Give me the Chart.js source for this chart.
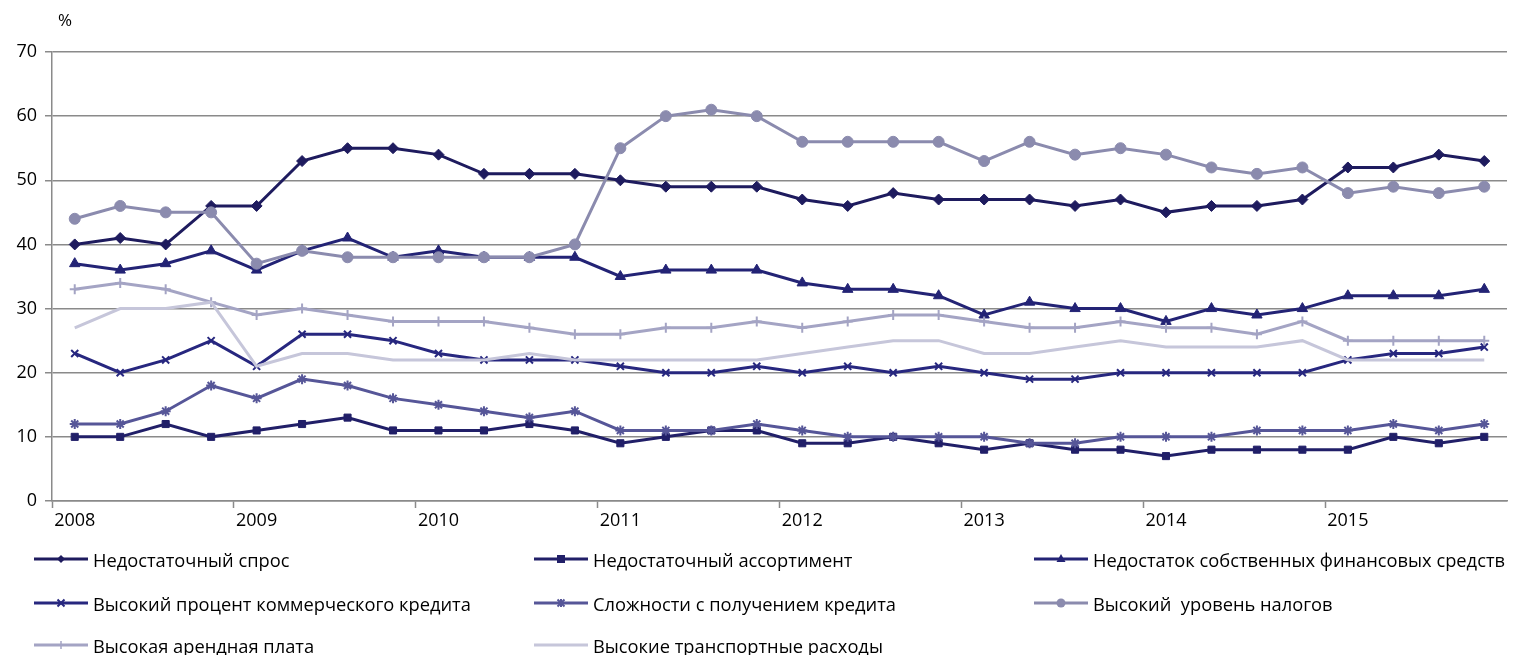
<!DOCTYPE html>
<html><head><meta charset="utf-8">
<script src="https://cdn.jsdelivr.net/npm/chart.js@4.4.0/dist/chart.umd.min.js"></script>
<style>
html,body{margin:0;padding:0;background:#fff;}
#wrap{position:relative;width:1514px;height:655px;overflow:hidden;font-family:"Open Sans",sans-serif;}
#c{position:absolute;left:0;top:0;}
#pct{position:absolute;left:58px;top:8px;font-size:17px;color:#000;}
.leg{position:absolute;display:flex;align-items:center;font-size:18.3px;color:#000;white-space:pre;height:24px;}
.leg svg{margin-right:4px;display:block;}
</style></head><body>
<div id="wrap"><canvas id="c" width="1514" height="655"></canvas><div id="pct">%</div><div id="legend"></div></div>
<script>
const years = ['2008','2009','2010','2011','2012','2013','2014','2015'];
const quarters = ['I','II','III','IV'];
const categories = [];
years.forEach(y => quarters.forEach(q => categories.push(y + ' ' + q)));

const seriesNames = [
  'Недостаточный спрос',
  'Недостаточный ассортимент',
  'Недостаток собственных финансовых средств',
  'Высокий процент коммерческого кредита',
  'Сложности с получением кредита',
  'Высокий  уровень налогов',
  'Высокая арендная плата',
  'Высокие транспортные расходы'
];

const demand      = [40,41,40,46,46,53,55,55,54,51,51,51,50,49,49,49,47,46,48,47,47,47,46,47,45,46,46,47,52,52,54,53];
const assortment  = [10,10,12,10,11,12,13,11,11,11,12,11,9,10,11,11,9,9,10,9,8,9,8,8,7,8,8,8,8,10,9,10];
const ownFinance  = [37,36,37,39,36,39,41,38,39,38,38,38,35,36,36,36,34,33,33,32,29,31,30,30,28,30,29,30,32,32,32,33];
const creditRate  = [23,20,22,25,21,26,26,25,23,22,22,22,21,20,20,21,20,21,20,21,20,19,19,20,20,20,20,20,22,23,23,24];
const creditAccess= [12,12,14,18,16,19,18,16,15,14,13,14,11,11,11,12,11,10,10,10,10,9,9,10,10,10,11,11,11,12,11,12];
const taxes       = [44,46,45,45,37,39,38,38,38,38,38,40,55,60,61,60,56,56,56,56,53,56,54,55,54,52,51,52,48,49,48,49];
const rent        = [33,34,33,31,29,30,29,28,28,28,27,26,26,27,27,28,27,28,29,29,28,27,27,28,27,27,26,28,25,25,25,25];
const transport   = [27,30,30,31,21,23,23,22,22,22,23,22,22,22,22,22,23,24,25,25,23,23,24,25,24,24,24,25,22,22,22,22];

const yTicks = [0,10,20,30,40,50,60,70];

const seriesData = [demand, assortment, ownFinance, creditRate, creditAccess, taxes, rent, transport];
const colors = ['#1e1b5e','#211f68','#232375','#27277f','#565698','#8b8bae','#a4a4c4','#c6c6da'];
const styles = ['rectRot','rect','triangle','crossRot','star','circle','cross',false];
const radii  = [5.5,5,6,5,5,5.5,5,0];

const FONT = '"Open Sans", sans-serif';
const GRID = '#8a8a8a';

const datasets = seriesData.map((d, i) => ({
  label: seriesNames[i],
  data: d,
  borderColor: colors[i],
  backgroundColor: colors[i],
  borderWidth: 3,
  pointStyle: styles[i] || 'circle',
  pointRadius: radii[i],
  pointHoverRadius: radii[i],
  pointBorderWidth: (styles[i] === 'crossRot' || styles[i] === 'cross' || styles[i] === 'star') ? 2 : 1,
  tension: 0,
  fill: false,
  order: 10 - i
}));

new Chart(document.getElementById('c'), {
  type: 'line',
  data: { labels: categories, datasets },
  options: {
    responsive: false,
    animation: false,
    devicePixelRatio: 1,
    layout: { padding: { top: 52, right: 5, bottom: 124, left: 0 } },
    plugins: { legend: { display: false }, tooltip: { enabled: false } },
    scales: {
      x: {
        type: 'category',
        offset: true,
        grid: {
          offset: true,
          drawOnChartArea: false,
          drawTicks: true,
          tickLength: 7,
          tickWidth: 1.5,
          tickColor: ctx => (ctx.index % 4 === 0 ? GRID : 'rgba(0,0,0,0)')
        },
        border: { display: true, color: GRID, width: 1.5 },
        ticks: {
          autoSkip: false,
          maxRotation: 0,
          minRotation: 0,
          padding: 2,
          color: '#000',
          font: { family: FONT, size: 18 },
          callback: (v, i) => (i % 4 === 0 ? years[i / 4] : '')
        },
        afterFit: s => { s.height = 30; }
      },
      y: {
        min: 0,
        max: 70,
        afterBuildTicks: s => { s.ticks = yTicks.map(v => ({ value: v })); },
        grid: { color: GRID, lineWidth: 1.5, tickLength: 7, tickColor: GRID, tickWidth: 1.5 },
        border: { display: true, color: GRID, width: 1.5 },
        ticks: {
          padding: 8,
          color: '#000',
          font: { family: FONT, size: 18 }
        },
        afterFit: s => { s.width = 52; }
      }
    }
  }
});

// HTML legend (3 columns)
const legend = document.getElementById('legend');
const colX = [34, 534, 1034];
const rowY = [559, 603, 645];
seriesNames.forEach((name, i) => {
  const col = i % 3, row = Math.floor(i / 3);
  const div = document.createElement('div');
  div.className = 'leg';
  div.style.left = colX[col] + 'px';
  div.style.top = (rowY[row] - 12) + 'px';
  const c = colors[i];
  let marker = '';
  const cx = 27, cy = 12;
  switch (styles[i]) {
    case 'rectRot': marker = `<polygon points="${cx},${cy-4} ${cx+4},${cy} ${cx},${cy+4} ${cx-4},${cy}" fill="${c}"/>`; break;
    case 'rect': marker = `<rect x="${cx-4}" y="${cy-4}" width="8" height="8" fill="${c}"/>`; break;
    case 'triangle': marker = `<polygon points="${cx},${cy-5} ${cx+4.5},${cy+3} ${cx-4.5},${cy+3}" fill="${c}"/>`; break;
    case 'crossRot': marker = `<path d="M${cx-3.5} ${cy-3.5}L${cx+3.5} ${cy+3.5}M${cx+3.5} ${cy-3.5}L${cx-3.5} ${cy+3.5}" stroke="${c}" stroke-width="2"/>`; break;
    case 'star': marker = `<path d="M${cx-3.5} ${cy-3.5}L${cx+3.5} ${cy+3.5}M${cx+3.5} ${cy-3.5}L${cx-3.5} ${cy+3.5}M${cx} ${cy-4}L${cx} ${cy+4}" stroke="${c}" stroke-width="2"/>`; break;
    case 'circle': marker = `<circle cx="${cx}" cy="${cy}" r="4.5" fill="${c}"/>`; break;
    case 'cross': marker = `<path d="M${cx} ${cy-4}L${cx} ${cy+4}" stroke="${c}" stroke-width="1.5"/>`; break;
    default: marker = '';
  }
  div.innerHTML = `<svg width="55" height="24"><line x1="0" y1="${cy}" x2="54" y2="${cy}" stroke="${c}" stroke-width="3"/>${marker}</svg><span>${name}</span>`;
  legend.appendChild(div);
});
</script>
</body></html>
